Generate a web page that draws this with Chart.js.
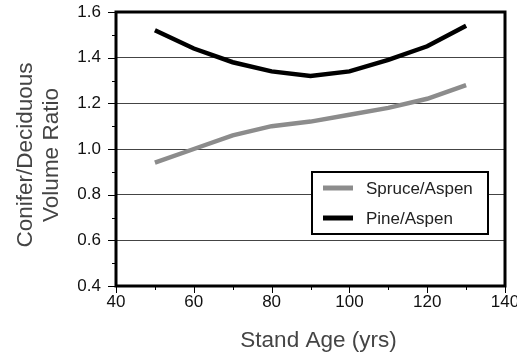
<!DOCTYPE html>
<html>
<head>
<meta charset="utf-8">
<script src="https://cdn.jsdelivr.net/npm/chart.js@4/dist/chart.umd.min.js"></script>
<style>
  html, body { margin: 0; padding: 0; background: #fff; }
  #wrap { width: 517px; height: 357px; }
</style>
</head>
<body>
<div id="wrap"><canvas id="chart" width="517" height="357"></canvas></div>
<script>
const ages        = [50, 60, 70, 80, 90, 100, 110, 120, 130];
const spruceAspen = [0.94, 1.00, 1.06, 1.10, 1.12, 1.15, 1.18, 1.22, 1.28];
const pineAspen   = [1.52, 1.44, 1.38, 1.34, 1.32, 1.34, 1.39, 1.45, 1.54];
const seriesNames = ['Spruce/Aspen', 'Pine/Aspen'];
const xTitle = 'Stand Age (yrs)';
const yTitle = ['Conifer/Deciduous', 'Volume Ratio'];

const FONT = 'Arial, "Liberation Sans", sans-serif';

// frame, minor ticks, axis titles and the boxed legend inside the plot
const framePlugin = {
    id: 'frame',
    afterDraw(chart) {
        const { ctx, chartArea: a, scales: { x, y } } = chart;
        ctx.save();
        ctx.strokeStyle = '#000';
        ctx.lineWidth = 1;
        ctx.beginPath();
        for (let v = x.min; v <= x.max + 0.001; v += 10) {
            const px = Math.round(x.getPixelForValue(v)) + 0.5;
            const len = (v % 20 === 0) ? 7 : 4;
            ctx.moveTo(px, a.bottom); ctx.lineTo(px, a.bottom + len);
        }
        for (let i = 0; i <= 12; i++) {
            const v = y.min + i * 0.1;
            const py = Math.round(y.getPixelForValue(v)) + 0.5;
            const len = (i % 2 === 0) ? 8 : 4;
            ctx.moveTo(a.left, py); ctx.lineTo(a.left - len, py);
        }
        ctx.stroke();

        ctx.lineWidth = 3;
        ctx.strokeRect(a.left, a.top, a.right - a.left, a.bottom - a.top);

        // axis titles
        ctx.fillStyle = '#444';
        ctx.font = '22.5px ' + FONT;
        ctx.textAlign = 'center';
        ctx.textBaseline = 'alphabetic';
        ctx.fillText(xTitle, (a.left + a.right) / 2 + 8, a.bottom + 61);
        ctx.save();
        ctx.translate(0, (a.top + a.bottom) / 2 + 6);
        ctx.rotate(-Math.PI / 2);
        yTitle.forEach((t, i) => ctx.fillText(t, 0, 32 + i * 26));
        ctx.restore();

        // legend box
        const bx = a.right - 193, by = a.bottom - 114, bw = 176, bh = 62;
        ctx.fillStyle = '#fff';
        ctx.fillRect(bx, by, bw, bh);
        ctx.lineWidth = 2;
        ctx.strokeRect(bx, by, bw, bh);
        ctx.font = '17px ' + FONT;
        ctx.textAlign = 'left';
        ctx.textBaseline = 'middle';
        chart.data.datasets.forEach((ds, i) => {
            const ly = by + 16 + i * 30;
            ctx.strokeStyle = ds.borderColor;
            ctx.lineWidth = 5;
            ctx.beginPath();
            ctx.moveTo(bx + 11, ly); ctx.lineTo(bx + 41, ly);
            ctx.stroke();
            ctx.fillStyle = '#222';
            ctx.fillText(ds.label, bx + 54, ly + 1);
        });
        ctx.restore();
    }
};

new Chart(document.getElementById('chart'), {
    type: 'line',
    data: {
        datasets: [
            { label: seriesNames[0], data: ages.map((a, i) => ({ x: a, y: spruceAspen[i] })),
              borderColor: '#8c8c8c', borderWidth: 4.5, pointRadius: 0, tension: 0, fill: false },
            { label: seriesNames[1], data: ages.map((a, i) => ({ x: a, y: pineAspen[i] })),
              borderColor: '#000', borderWidth: 4.5, pointRadius: 0, tension: 0, fill: false }
        ]
    },
    options: {
        responsive: false,
        animation: false,
        layout: { padding: { top: 12, right: 12, left: 0, bottom: 0 } },
        plugins: { legend: { display: false }, tooltip: { enabled: false } },
        scales: {
            x: {
                type: 'linear', min: 40, max: 140,
                grid: { display: false, drawTicks: false },
                border: { display: false },
                ticks: { stepSize: 20, padding: 6, color: '#111', maxRotation: 0,
                         font: { family: FONT, size: 17 } },
                afterFit(s) { s.height = 71; s.paddingLeft = 0; s.paddingRight = 0; }
            },
            y: {
                min: 0.4, max: 1.6,
                grid: { color: '#444', lineWidth: 1, drawTicks: false },
                border: { display: false },
                ticks: { stepSize: 0.2, padding: 15, color: '#111', font: { family: FONT, size: 17 },
                         callback: v => v.toFixed(1) },
                afterFit(s) { s.width = 116; s.paddingTop = 0; s.paddingBottom = 0; }
            }
        }
    },
    plugins: [framePlugin]
});
</script>
</body>
</html>
